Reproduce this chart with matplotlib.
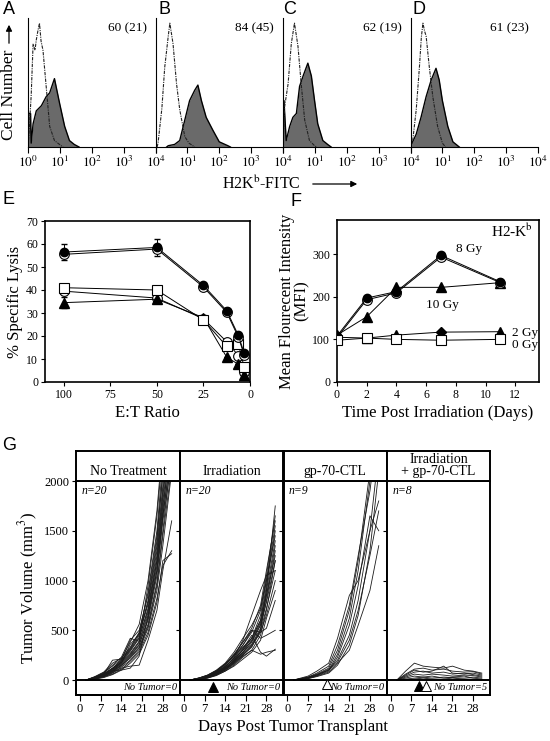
import numpy as np
import matplotlib
matplotlib.use('Agg')
import matplotlib.pyplot as plt
from matplotlib.ticker import LogLocator, NullFormatter

plt.rcParams['font.family'] = ['Liberation Serif', 'DejaVu Serif']
plt.rcParams['mathtext.fontset'] = 'stix'

# ---- A-D: flow histograms (log10 position, relative count) ----
hist_labels = ['60 (21)', '84 (45)', '62 (19)', '61 (23)']
gray_pos = [
    [0, 0.0, 0.08, 0.1, 0.16, 0.26, 0.42, 0.57, 0.68, 0.83, 0.99, 1.15, 1.30, 1.45, 1.6],
    [0.35, 0.4, 0.6, 0.76, 0.92, 1.07, 1.23, 1.33, 1.44, 1.59, 1.8, 2.0, 2.27, 2.35],
    [0, 0.0, 0.03, 0.1, 0.21, 0.31, 0.42, 0.52, 0.63, 0.78, 0.89, 0.99, 1.09, 1.25, 1.4, 1.51],
    [0, 0.02, 0.05, 0.18, 0.33, 0.49, 0.65, 0.8, 0.9, 1.0, 1.17, 1.33, 1.53],
]
gray_h = [
    [0, 26, 26, 3, 18, 28, 32, 39, 42, 53, 34, 16, 5, 2, 0],
    [0, 1, 2, 5, 21, 36, 44, 48, 36, 23, 13, 4, 1, 0],
    [0, 36, 36, 5, 16, 23, 26, 47, 55, 65, 55, 36, 18, 5, 2, 0],
    [0, 5, 3, 10, 23, 39, 52, 61, 52, 36, 16, 4, 0],
]
ctrl_pos = [
    [0.0, 0.03, 0.1, 0.16, 0.22, 0.26, 0.31, 0.36, 0.41, 0.47, 0.57, 0.68, 0.83, 1.04, 1.1],
    [0.05, 0.08, 0.2, 0.29, 0.35, 0.4, 0.45, 0.5, 0.55, 0.66, 0.76, 0.92, 1.05, 1.23],
    [0, 0.05, 0.16, 0.26, 0.36, 0.47, 0.57, 0.68, 0.83, 0.99, 1.05],
    [0, 0.07, 0.18, 0.28, 0.34, 0.39, 0.44, 0.49, 0.59, 0.7, 0.85, 1.0, 1.1],
]
ctrl_h = [
    [0, 10, 40, 80, 75, 83, 90, 96, 82, 75, 47, 16, 5, 1, 0],
    [0, 3, 30, 62, 75, 86, 96, 88, 80, 49, 29, 8, 3, 0],
    [0, 31, 49, 80, 96, 78, 49, 21, 5, 1, 0],
    [0, 5, 29, 62, 85, 96, 90, 86, 62, 39, 16, 3, 0],
]

# ---- E: lysis ----
et_ratio = [100, 50, 25, 12.5, 6.25, 3.125]
lysis_circle_filled = [56.5, 58.5, 42, 31, 20.3, 12.5]
lysis_circle_open_a = [55.5, 57.8, 41.3, 30.3, 19.5, 11.8]
lysis_circle_open_b = [39.5, 36.5, 27.5, 17.5, 11.5, 4.5]
lysis_triangle = [34.5, 36, 28, 10.8, 7.7, 3]
lysis_square = [41, 40, 27, 15.5, 16.5, 6.5]
err_circle = [3.5, 3.5, 0, 0, 0, 0]
err_triangle = [2.5, 0, 0, 0, 0, 0]

# ---- F: MFI ----
days_f = [0, 2, 4, 7, 11]
mfi_8gy = [108, 197, 212, 297, 235]
mfi_8gy_open = [104, 193, 209, 293, 233]
mfi_10gy = [110, 153, 222, 222, 233]
mfi_2gy = [105, 103, 110, 117, 118]
mfi_0gy = [98, 103, 100, 98, 100]

# ---- G: tumour growth ----
g_titles = ['No Treatment', 'Irradiation', 'gp-70-CTL', 'Irradiation\n+ gp-70-CTL']
g_n = ['n=20', 'n=20', 'n=9', 'n=8']
g_notumor = ['No Tumor=0', 'No Tumor=0', 'No Tumor=0', 'No Tumor=5']
days1 = [2, 5, 8, 11, 14, 17, 20, 23, 26, 28, 31]
curves1 = [
    [0, 20, 45, 90, 170, 260, 380, 650, 1150, 1700, 2500],
    [0, 30, 60, 120, 200, 310, 450, 800, 1400, 2100, 2900],
    [0, 15, 40, 80, 140, 230, 330, 560, 980, 1500, 2300],
    [0, 25, 70, 150, 230, 420, 390, 950, 1650, 2300, 3000],
    [0, 20, 55, 110, 180, 290, 420, 720, 1250, 1850, 2600],
    [0, 10, 30, 70, 130, 200, 300, 520, 900, 1350, 2100],
    [0, 35, 80, 170, 220, 330, 480, 880, 1500, 2200, 2900],
    [0, 25, 50, 100, 190, 300, 430, 700, 1200, 1750, 2400],
    [0, 15, 35, 60, 110, 190, 280, 480, 820, 1150, 1300],
    [0, 20, 50, 100, 160, 250, 360, 600, 1050, 1600, 2200],
    [0, 30, 75, 140, 210, 380, 560, 1000, 1700, 2400, 3100],
    [0, 10, 25, 55, 100, 170, 260, 450, 780, 1200, 1270],
    [0, 20, 60, 200, 210, 400, 500, 850, 1450, 2050, 2800],
    [0, 15, 45, 90, 150, 240, 350, 620, 1100, 1650, 2350],
    [0, 25, 55, 115, 200, 320, 470, 780, 1350, 1950, 2700],
    [0, 20, 40, 85, 150, 220, 320, 540, 950, 1450, 2150],
    [0, 30, 65, 120, 180, 270, 390, 680, 1200, 1800, 2500],
    [0, 15, 35, 75, 120, 140, 150, 400, 700, 1100, 1600],
    [0, 25, 60, 110, 170, 360, 460, 760, 1300, 1900, 2600],
    [0, 20, 50, 95, 100, 120, 240, 640, 1100, 1650, 2300],
]
days2 = [2, 5, 8, 11, 14, 17, 20, 23, 26, 28, 31]
curves2 = [
    [0, 10, 30, 60, 110, 170, 250, 330, 500, 900, 1750],
    [0, 15, 40, 80, 140, 220, 320, 420, 600, 950, 1500],
    [0, 10, 25, 55, 100, 160, 240, 300, 450, 700, 1200],
    [0, 20, 45, 90, 160, 250, 350, 480, 700, 1050, 1650],
    [0, 10, 30, 65, 120, 190, 280, 360, 520, 800, 1300],
    [0, 15, 35, 70, 130, 230, 400, 650, 900, 1050, 1100],
    [0, 5, 20, 45, 90, 150, 230, 300, 260, 280, 300],
    [0, 15, 40, 85, 150, 250, 380, 500, 420, 450, 500],
    [0, 10, 25, 60, 110, 180, 260, 340, 480, 650, 1000],
    [0, 20, 50, 100, 170, 280, 420, 550, 720, 1000, 1450],
    [0, 10, 30, 70, 120, 200, 310, 450, 280, 240, 310],
    [0, 15, 35, 75, 140, 210, 300, 390, 560, 850, 1350],
    [0, 10, 20, 50, 90, 140, 210, 280, 400, 620, 900],
    [0, 15, 45, 90, 160, 240, 330, 420, 650, 1000, 1550],
    [0, 20, 40, 80, 130, 220, 350, 500, 480, 520, 800],
    [0, 10, 30, 60, 110, 180, 270, 380, 550, 780, 1200],
    [0, 15, 35, 70, 120, 200, 300, 420, 600, 900, 1400],
    [0, 10, 25, 55, 100, 170, 250, 350, 500, 720, 1100],
    [0, 20, 50, 95, 160, 260, 380, 520, 750, 1100, 1600],
    [0, 10, 30, 65, 120, 190, 280, 400, 580, 850, 1250],
]
days3 = [2, 7, 10, 14, 17, 21, 24, 28, 31]
curves3 = [
    [0, 30, 60, 120, 300, 700, 1200, 2100, 2800],
    [0, 20, 50, 100, 260, 620, 1100, 2000, 2700],
    [0, 40, 90, 170, 420, 850, 1000, 1500, 1800],
    [0, 25, 50, 110, 200, 450, 800, 1500, 2300],
    [0, 15, 40, 80, 170, 300, 550, 900, 1350],
    [0, 30, 70, 140, 350, 750, 1250, 1900, 2600],
    [0, 20, 45, 90, 230, 550, 950, 1650, 1500],
    [0, 25, 55, 100, 180, 400, 700, 1250, 1700],
    [0, 15, 35, 70, 150, 350, 650, 1300, 2100],
]
days4 = [2, 5, 8, 11, 14, 18, 21, 25, 28, 31]
curves4 = [
    [0, 90, 170, 140, 130, 120, 140, 100, 90, 70],
    [0, 60, 110, 120, 100, 110, 90, 80, 85, 60],
    [0, 40, 80, 90, 70, 80, 60, 70, 55, 40],
    [0, 30, 60, 50, 60, 50, 40, 50, 45, 30],
    [0, 20, 40, 30, 20, 30, 25, 20, 30, 20],
    [0, 50, 100, 80, 90, 140, 70, 60, 70, 50],
    [0, 10, 20, 30, 40, 20, 30, 40, 20, 10],
    [0, 0, 10, 20, 10, 10, 20, 10, 10, 0],
]
g_days = [days1, days2, days3, days4]
g_curves = [curves1, curves2, curves3, curves4]
# treatment markers (day, y, filled?)
g_marks = [[], [(10, -65, True)], [(13.5, -35, False)], [(9.6, -60, True), (12, -60, False)]]

W, H = 550, 741


def box(x0, y0, x1, y1):
    return [x0 / W, 1 - y1 / H, (x1 - x0) / W, (y1 - y0) / H]


fig = plt.figure(figsize=(5.5, 7.41), dpi=100)

# A-D
edges = [28, 155.5, 283, 410.5, 538]
for i in range(4):
    ax = fig.add_axes(box(edges[i], 18, edges[i + 1], 147))
    ax.set_xscale('log')
    ax.set_xlim(1, 1e4)
    ax.set_ylim(0, 100)
    gx = 10 ** np.array(gray_pos[i])
    ax.fill_between(gx, gray_h[i], color='#6a6a6a', lw=0)
    ax.plot(gx, gray_h[i], color='k', lw=1.0)
    ax.plot(10 ** np.array(ctrl_pos[i]), ctrl_h[i], color='#222222', lw=0.8, ls=(0, (3, 1, 1, 1)))
    for s in ['top', 'right']:
        ax.spines[s].set_visible(False)
    ax.set_yticks([])
    ax.set_xticks([1, 10, 100, 1000, 10000])
    labs = [r'$10^{%d}$' % k for k in range(5)]
    if i > 0:
        labs[0] = ''
    ax.set_xticklabels(labs, fontsize=9.5)
    ax.xaxis.set_minor_locator(LogLocator(base=10, subs=np.arange(2, 10)))
    ax.xaxis.set_minor_formatter(NullFormatter())
    ax.tick_params(axis='x', which='major', length=4, direction='out', pad=2)
    ax.tick_params(axis='x', which='minor', length=2.5, direction='out')
    ax.text(0.93, 0.92, hist_labels[i], transform=ax.transAxes, ha='right', va='center', fontsize=9.5)
    ax.patch.set_visible(False)

fig.text(9 / W, 1 - 95 / H, 'Cell Number', rotation=90, ha='center', va='center', fontsize=12.5)
ax.annotate('', xy=(9 / W, 1 - 22 / H), xytext=(9 / W, 1 - 46 / H), xycoords='figure fraction',
            textcoords='figure fraction', annotation_clip=False,
            arrowprops=dict(arrowstyle='-|>', color='k', lw=0.9, mutation_scale=9))
fig.text(222 / W, 1 - 184 / H, r'H2K$^{\rm b}$-FITC', ha='left', va='center', fontsize=11.5)
ax.annotate('', xy=(360 / W, 1 - 184 / H), xytext=(310 / W, 1 - 184 / H), xycoords='figure fraction',
            textcoords='figure fraction', annotation_clip=False,
            arrowprops=dict(arrowstyle='-|>', color='k', lw=0.9, mutation_scale=9))

for lab, x, y in [('A', 3, 10), ('B', 158, 10), ('C', 283, 10), ('D', 413, 10),
                  ('E', 3, 200), ('F', 291, 201), ('G', 2, 446)]:
    fig.text(x / W, 1 - y / H, lab, family='Liberation Sans', fontsize=13, ha='left', va='center')

# E
ax = fig.add_axes(box(45, 221, 250, 382))
ax.errorbar(et_ratio, lysis_circle_open_b, color='k', lw=0.7, marker='o', ms=7, mfc='white', mec='k', mew=0.8)
ax.errorbar(et_ratio, lysis_triangle, yerr=err_triangle, color='k', lw=0.7, marker='^', ms=7,
            mfc='k', mec='k', capsize=2.5, elinewidth=0.7)
ax.errorbar(et_ratio, lysis_square, color='k', lw=0.7, marker='s', ms=7.5, mfc='white', mec='k', mew=0.8)
ax.errorbar(et_ratio, lysis_circle_open_a, color='k', lw=0.7, marker='o', ms=7, mfc='white', mec='k', mew=0.8)
ax.errorbar(et_ratio, lysis_circle_filled, yerr=err_circle, color='k', lw=0.7, marker='o', ms=6,
            mfc='k', mec='k', capsize=2.5, elinewidth=0.7)
ax.set_xlim(110, 0)
ax.set_ylim(0, 70)
ax.set_xticks([100, 75, 50, 25, 0])
ax.set_yticks(range(0, 71, 10))
ax.tick_params(labelsize=8.5, length=3, direction='out', pad=2)
ax.set_xlabel('E:T Ratio', fontsize=12, labelpad=3)
ax.set_ylabel('% Specific Lysis', fontsize=12, labelpad=2)
for s in ax.spines.values():
    s.set_linewidth(1.2)

# F
ax = fig.add_axes(box(337, 220, 539, 382))
ax.plot(days_f, mfi_0gy, color='k', lw=0.7, marker='s', ms=7.5, mfc='white', mec='k', mew=0.8, zorder=4)
ax.plot(days_f, mfi_2gy, color='k', lw=0.7, zorder=3)
ax.plot(days_f[:3] + days_f[4:], mfi_2gy[:3] + mfi_2gy[4:], ls='none', marker='^', ms=7, color='k', zorder=3)
ax.plot(days_f[3], mfi_2gy[3], ls='none', marker='D', ms=5.5, color='k', zorder=3)
ax.plot(days_f, mfi_10gy, color='k', lw=0.7, marker='^', ms=7, mfc='k', mec='k')
ax.plot(days_f, mfi_8gy_open, color='k', lw=0.7, marker='o', ms=7, mfc='white', mec='k', mew=0.8)
ax.plot(days_f, mfi_8gy, color='k', lw=0.7, marker='o', ms=6, mfc='k', mec='k')
ax.text(8.9, 311, '8 Gy', fontsize=9.5, ha='center', va='center')
ax.text(7.1, 181, '10 Gy', fontsize=9.5, ha='center', va='center')
ax.text(11.8, 116, '2 Gy', fontsize=9.5, ha='left', va='center')
ax.text(11.8, 86, '0 Gy', fontsize=9.5, ha='left', va='center')
ax.text(0.97, 0.93, r'H2-K$^{\rm b}$', transform=ax.transAxes, fontsize=11, ha='right', va='center')
ax.set_xlim(0, 13.6)
ax.set_ylim(0, 380)
ax.set_xticks(range(0, 13, 2))
ax.set_yticks([0, 100, 200, 300])
ax.tick_params(labelsize=8.5, length=3, direction='out', pad=2)
ax.set_xlabel('Time Post Irradiation (Days)', fontsize=12, labelpad=3)
ax.set_ylabel('Mean Flourecent Intensity\n(MFI)', fontsize=12, labelpad=2, linespacing=0.9)
for s in ax.spines.values():
    s.set_linewidth(1.2)

# G
g_edges = [76, 180, 283.5, 387, 490]
for i in range(4):
    ax = fig.add_axes(box(g_edges[i], 481, g_edges[i + 1], 695))
    for c in g_curves[i]:
        ax.plot(g_days[i], c, color='#1a1a1a', lw=0.6)
    ax.axhline(0, color='k', lw=1.4)
    for d, yv, filled in g_marks[i]:
        ax.plot(d, yv, marker='^', ms=6.5, mfc='k' if filled else 'white', mec='k', mew=0.7, ls='none',
                clip_on=False)
    ax.set_xlim(-1.35, 33.8)
    ax.set_ylim(-150, 2000)
    ax.set_xticks([0, 7, 14, 21, 28])
    ax.tick_params(axis='x', labelsize=9, length=4, direction='out', pad=2)
    if i == 0:
        ax.set_yticks([0, 500, 1000, 1500, 2000])
        ax.tick_params(axis='y', labelsize=9, length=3, direction='out', pad=2)
        ax.set_ylabel('Tumor Volume (mm$^3$)', fontsize=12, labelpad=3)
        ax2 = ax.twinx()
        ax2.set_ylim(-150, 2000)
        ax2.set_yticks([500, 1000, 1500])
        ax2.tick_params(axis='y', direction='in', length=3, labelright=False)
        for s in ax2.spines.values():
            s.set_linewidth(1.4)
    else:
        ax.set_yticks([500, 1000, 1500])
        ax.tick_params(axis='y', left=False, labelleft=False, right=(i < 3), length=3, direction='in')
    ax.text(0.05, 0.955, g_n[i], transform=ax.transAxes, fontsize=8.5, style='italic', ha='left', va='center')
    ax.text(0.97, -75, g_notumor[i], transform=ax.get_yaxis_transform(), fontsize=7.5, style='italic',
            ha='right', va='center')
    for s in ax.spines.values():
        s.set_linewidth(1.4)
    hx = fig.add_axes(box(g_edges[i], 451, g_edges[i + 1], 481))
    hx.set_xticks([])
    hx.set_yticks([])
    for s in hx.spines.values():
        s.set_linewidth(1.4)
    hx.text(0.5, 0.1, g_titles[i], transform=hx.transAxes, ha='center', va='bottom', fontsize=10,
            linespacing=0.9)

fig.text(293 / W, 1 - 727 / H, 'Days Post Tumor Transplant', ha='center', va='center', fontsize=12)

fig.savefig('out.png', dpi=100)
